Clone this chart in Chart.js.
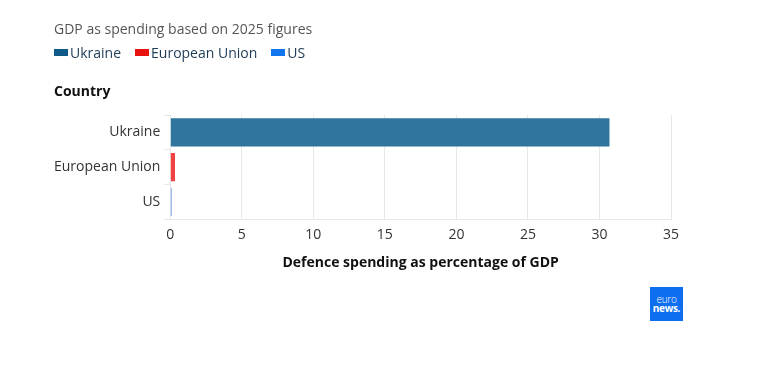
<!DOCTYPE html>
<html>
<head>
<meta charset="utf-8">
<script src="https://cdn.jsdelivr.net/npm/chart.js@4"></script>
<style>
  html, body { margin: 0; padding: 0; background: #fff; }
  body { width: 766px; height: 379px; position: relative; overflow: hidden; font-family: "Open Sans", sans-serif; }
  #wrap { position: absolute; left: 0; top: 0; width: 766px; height: 379px; }
  .title { position: absolute; left: 54px; top: 19px; font-size: 14px; color: #555; }
  .legend { position: absolute; left: 54px; top: 43px; display: flex; font-size: 14px; color: #1e3a56; }
  .legend span.item { display: flex; align-items: center; margin-right: 14px; }
  .legend span.box { display: inline-block; width: 14px; height: 7px; margin-right: 2px; }
  .ylab { position: absolute; left: 54px; top: 81px; font-size: 14px; font-weight: bold; color: #111; }
  .logo { position: absolute; left: 650px; top: 287px; width: 33px; height: 34px; background: #0d6ef0; color: #fff;
          font-size: 10px; line-height: 9px; text-align: center; padding-top: 8px; box-sizing: border-box; letter-spacing: -0.3px; }
</style>
</head>
<body>
<div id="wrap"><canvas id="chart" width="766" height="379"></canvas></div>
<div class="title">GDP as spending based on 2025 figures</div>
<div class="legend" id="legend"></div>
<div class="ylab">Country</div>
<div class="logo"><div style="font-weight:300">euro</div><div style="font-weight:bold">news.</div></div>
<script>
const categories = ["Ukraine", "European Union", "US"];
const values = [30.7, 0.33, 0.1];
const legendColors = ["#0f5a88", "#e8120e", "#1176ee"];
const barColors = ["#2e749c", "#ef4242", "#6d9fe3"];
const xTicks = [0, 5, 10, 15, 20, 25, 30, 35];

// HTML legend
const legendEl = document.getElementById("legend");
categories.forEach((c, i) => {
  const item = document.createElement("span");
  item.className = "item";
  item.innerHTML = '<span class="box" style="background:' + legendColors[i] + '"></span>' + c;
  legendEl.appendChild(item);
});

// one dataset per country, only its own category filled
const datasets = categories.map((c, i) => ({
  label: c,
  data: categories.map((_, j) => (j === i ? values[i] : null)),
  backgroundColor: barColors[i],
  borderWidth: 0,
  grouped: false,
  barPercentage: 0.9,
  categoryPercentage: 0.9,
}));

new Chart(document.getElementById("chart").getContext("2d"), {
  type: "bar",
  data: { labels: categories, datasets: datasets },
  options: {
    indexAxis: "y",
    responsive: false,
    animation: false,
    layout: { padding: { left: 50, right: 95, top: 115, bottom: 108 } },
    plugins: { legend: { display: false }, tooltip: { enabled: false } },
    scales: {
      x: {
        min: 0,
        max: 35,
        afterBuildTicks: (axis) => { axis.ticks = xTicks.map((v) => ({ value: v })); },
        grid: { color: "#e8e8e8", drawTicks: false },
        border: { color: "#e8e8e8" },
        ticks: { color: "#333", font: { family: "Open Sans", size: 14 }, padding: 7 },
        title: {
          display: true,
          text: "Defence spending as percentage of GDP",
          color: "#111",
          font: { family: "Open Sans", size: 14, weight: "bold" },
          padding: { top: 4, bottom: 0 },
        },
      },
      y: {
        grid: { drawOnChartArea: false, color: "#e8e8e8", tickLength: 6 },
        border: { color: "#e8e8e8" },
        ticks: { color: "#333", font: { family: "Open Sans", size: 14 }, padding: 4 },
      },
    },
  },
});
</script>
</body>
</html>
